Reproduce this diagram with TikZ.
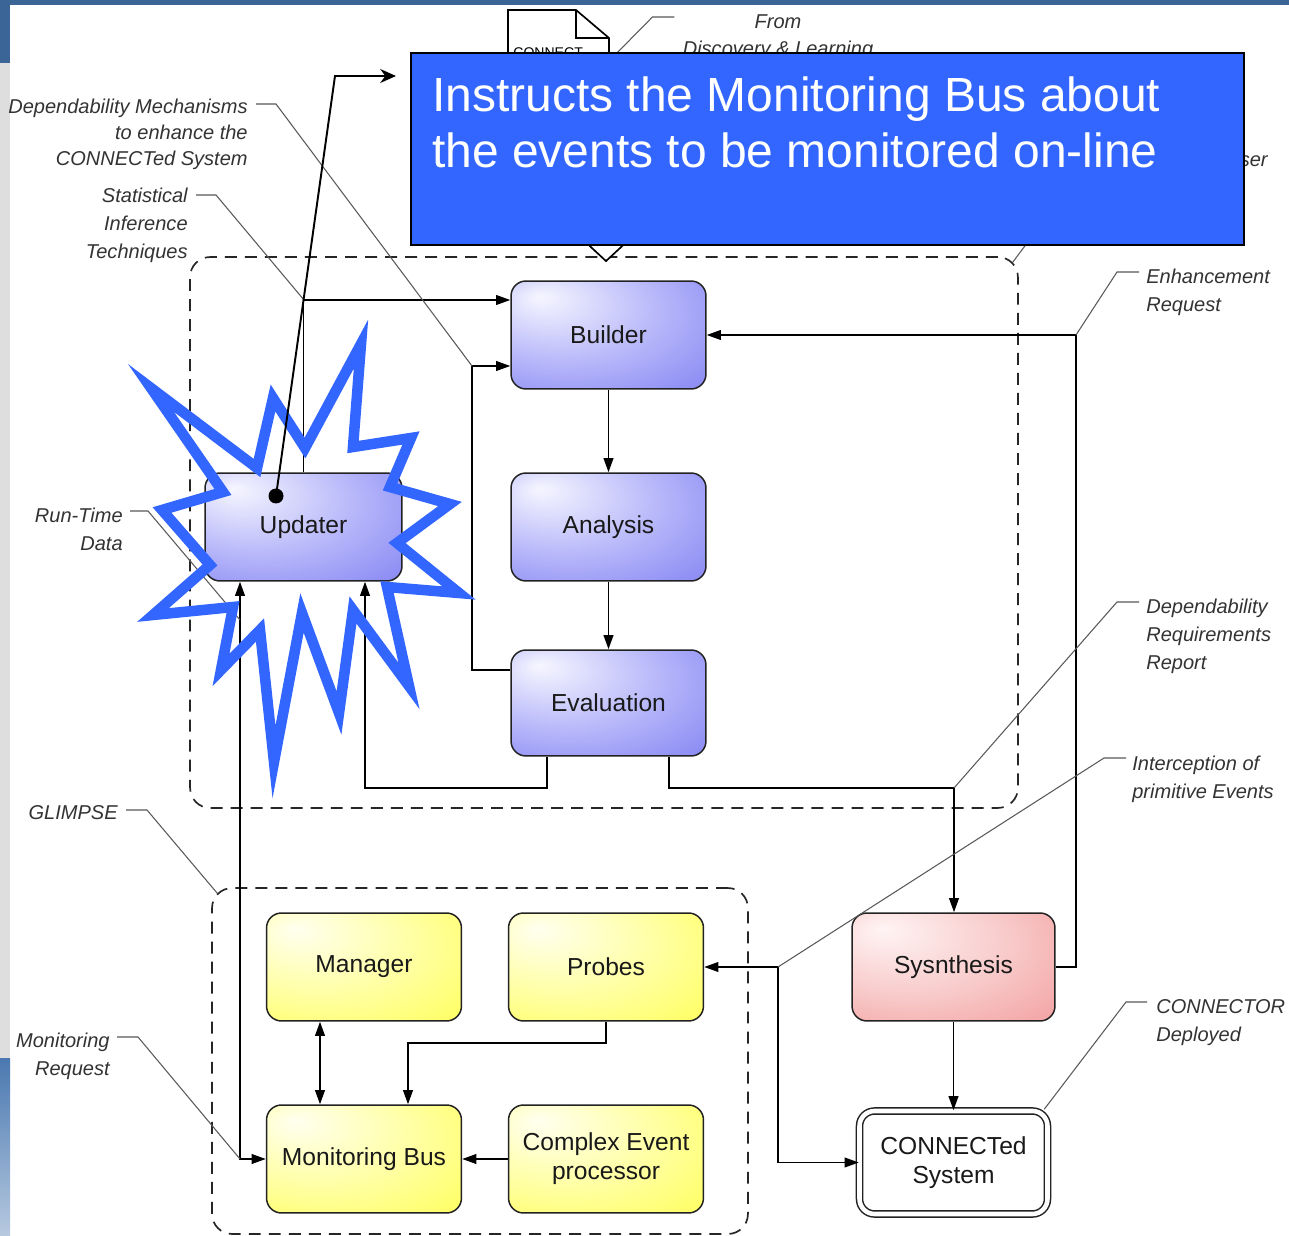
\documentclass[tikz,border=0pt]{standalone}
\usepackage{fontspec}
\setmainfont{Liberation Sans}
\usepackage{tikz}
\usetikzlibrary{arrows.meta, positioning, calc}

\definecolor{lavlight}{HTML}{F6F6FF}
\definecolor{lavmid}{HTML}{B6B6FA}
\definecolor{lavdark}{HTML}{8585F3}
\definecolor{ylwlight}{HTML}{FFFFF0}
\definecolor{ylwmid}{HTML}{FFFFA2}
\definecolor{ylwdark}{HTML}{FFFF5E}
\definecolor{pinklight}{HTML}{FFF4F4}
\definecolor{pinkmid}{HTML}{F8CACA}
\definecolor{pinkdark}{HTML}{F3A0A0}
\definecolor{boxline}{HTML}{222222}
\definecolor{noteblue}{HTML}{3366FF}
\definecolor{slideblue}{HTML}{3B6596}
\definecolor{stripgrey}{HTML}{DEDEDE}
\definecolor{stripblue}{HTML}{4A78B0}

\pgfdeclareradialshading{lavglow}{\pgfpoint{-18bp}{18bp}}{color(0bp)=(lavlight); color(25bp)=(lavmid); color(46bp)=(lavdark); color(70bp)=(lavdark)}
\pgfdeclareradialshading{ylwglow}{\pgfpoint{-18bp}{18bp}}{color(0bp)=(ylwlight); color(25bp)=(ylwmid); color(46bp)=(ylwdark); color(70bp)=(ylwdark)}
\pgfdeclareradialshading{pinkglow}{\pgfpoint{-18bp}{18bp}}{color(0bp)=(pinklight); color(25bp)=(pinkmid); color(46bp)=(pinkdark); color(70bp)=(pinkdark)}

\newcommand{\boxfont}{\fontsize{14}{16.5}\selectfont}
\newcommand{\lblfont}{\fontsize{11.4}{15.8}\selectfont\itshape}
\newcommand{\calloutfont}{\fontsize{27.3}{32.3}\selectfont}

\begin{document}
\begin{tikzpicture}[x=0.02cm, y=-0.02cm, >={Triangle[length=8pt,width=5.5pt]},
  box/.style={draw=boxline, line width=0.85pt, rounded corners=0.3cm,
    minimum width=3.9cm, minimum height=2.16cm, align=center,
    font=\boxfont, text=black!90},
  lavbox/.style={box, shade, shading=lavglow},
  ylwbox/.style={box, shade, shading=ylwglow},
  pinkbox/.style={box, shade, shading=pinkglow},
  sysbox/.style={box, fill=white, double, double distance=2.6pt,
    minimum width=3.76cm, minimum height=2.06cm},
  encl/.style={draw=black!85, line width=0.95pt, dash pattern=on 6.8pt off 4.6pt,
    rounded corners=0.4cm},
  wire/.style={draw=black, line width=0.95pt},
  lead/.style={draw=black!65, line width=0.6pt},
  lbl/.style={font=\lblfont, text=black!80, inner sep=0pt},
  burst/.style={draw=noteblue, line width=6pt, line join=miter, miter limit=30}]

\useasboundingbox (0,0) rectangle (1289,1236);
\fill[white] (0,0) rectangle (1289,1236);
\fill[slideblue] (0,0) rectangle (1289,5);
\fill[slideblue] (0,0) rectangle (10,63);
\fill[stripgrey] (0,63) rectangle (10,1058);
\shade[top color=stripblue, bottom color=stripblue!40] (0,1058) rectangle (10,1236);

\node[encl, minimum width=16.56cm, minimum height=11.02cm] (enabler) at (604,532.5) {};
\node[encl, minimum width=10.72cm, minimum height=6.92cm] (glimpse) at (480,1061) {};

% model document coming from discovery
\draw[wire, fill=white] (508,62) -- (508,10) -- (576,10) -- (609,38) -- (609,62);
\draw[wire] (576,10) -- (576,38) -- (609,38);
\node[font=\fontsize{8}{9}\selectfont, anchor=north west, inner sep=0pt] (doctxt) at (513,47) {CONNECT};
\coordinate (docfoot) at (606,70);
\draw[wire, -{Triangle[open, fill=white, length=14pt, width=30pt]}] (docfoot) -- ($(enabler.north -| docfoot)+(0,6)$);

\node[lavbox] (builder) at (608.5,335) {Builder};
\node[lavbox] (analysis) at (608.5,527) {Analysis};
\node[lavbox, minimum height=2.12cm] (evaluation) at (608.5,703) {Evaluation};
\node[lavbox, minimum width=3.94cm] (updater) at (303.5,527) {Updater};
\node[ylwbox] (manager) at (364,967) {Manager};
\node[ylwbox] (probes) at (606,967) {Probes};
\node[ylwbox] (bus) at (364,1159) {Monitoring Bus};
\node[ylwbox] (cep) at (606,1159) {Complex Event\\processor};
\node[pinkbox, minimum width=4.06cm] (synth) at (953.5,967) {Sysnthesis};
\node[sysbox] (system) at (953.5,1162.5) {CONNECTed\\System};

\coordinate (sitj) at (304,300);
\coordinate (dmj) at (472,366);
\coordinate (enj) at (1076,335);
\coordinate (drj) at (954,788);
\coordinate (ipj) at (778,967);
\coordinate (mrj) at (240,1159);
\coordinate (rtj) at (240,620);

\draw[wire,->] (updater.north) -- (updater.north |- sitj) -- (builder.west |- sitj);
\draw[wire,->] (evaluation.west |- 0,670) -| (dmj) -- (builder.west |- dmj);
\draw[wire,->] (builder) -- (analysis);
\draw[wire,->] (analysis) -- (evaluation);
\draw[wire,->] (evaluation.south -| 547,0) |- (365,788) -- (updater.south -| 365,0);
\draw[wire,->] (evaluation.south -| 669,0) |- (drj) -- (synth.north -| drj);
\draw[wire,->] (synth.east) -| (enj) -- (builder.east |- enj);
\draw[wire,->] (synth) -- (system);
\draw[wire,->] (ipj) -- (probes.east);
\draw[wire,->] (ipj) |- (system.west);
\draw[wire,<->] (updater.south -| mrj) -- (mrj) -- (bus.west);
\draw[wire,<->] (manager.south -| 320,0) -- (bus.north -| 320,0);
\draw[wire,->] (probes.south) |- (408,1043) -- (bus.north -| 408,0);
\draw[wire,->] (cep) -- (bus);

\node[lbl, anchor=north east, align=right, font=\fontsize{11.4}{14.7}\selectfont\itshape] (dmtag) at (248,99) {Dependability Mechanisms\\to enhance the\\CONNECTed System};
\node[lbl, anchor=north east, align=right] (sittag) at (188,188) {Statistical\\Inference\\Techniques};
\node[lbl, anchor=north east, align=right] (rttag) at (123,508) {Run-Time\\Data};
\node[lbl, anchor=north east] (gltag) at (118,805) {GLIMPSE};
\node[lbl, anchor=north east, align=right] (mrtag) at (110,1033) {Monitoring\\Request};
\node[lbl, anchor=north west, align=left] (entag) at (1146,269) {Enhancement\\Request};
\node[lbl, anchor=north west, align=left] (drtag) at (1146,599) {Dependability\\Requirements\\Report};
\node[lbl, anchor=north west, align=left] (iptag) at (1132,756) {Interception of\\primitive Events};
\node[lbl, anchor=north west, align=left] (cdtag) at (1156,999) {CONNECTOR\\Deployed};
\node[lbl, anchor=north, align=center] (fromtag) at (778,14) {From\\Discovery \& Learning};
\node[lbl, anchor=base east] (usertag) at (1268,167) {User};

\draw[lead] ($(dmtag.north east)+(8,5)$) -- ++(20,0) -- (dmj);
\draw[lead] ($(sittag.north east)+(8,7)$) -- ++(20,0) -- (sitj);
\draw[lead] ($(rttag.north east)+(7,3)$) -- ++(18,0) -- (rtj);
\draw[lead] ($(gltag.north east)+(8,5)$) -- ++(21,0) -- ($(glimpse.north west)+(6,6)$);
\draw[lead] ($(mrtag.north east)+(7,4)$) -- ++(21,0) -- (mrj);
\draw[lead] ($(entag.north west)+(-7,3)$) -- ++(-22,0) -- (enj);
\draw[lead] ($(drtag.north west)+(-7,3)$) -- ++(-22,0) -- (drj);
\draw[lead] ($(iptag.north west)+(-6,2)$) -- ++(-22,0) -- (ipj);
\draw[lead] ($(cdtag.north west)+(-9,3)$) -- ++(-21,0) -- ($(system.north east)+(-4,-1)$);
\draw[lead] ($(fromtag.north west)+(-8,3)$) -- ++(-22,0) -- (610,60);
\draw[lead] ($(usertag.west)+(-8,0)$) -- (1089,160) -- ($(enabler.north east)+(-6,6)$);

\node[draw=black, line width=1.2pt, fill=noteblue, minimum width=16.66cm, minimum height=3.84cm,
  anchor=north west, inner sep=0pt] (note) at (410,52) {};
\node[anchor=north west, inner sep=0pt, align=left, text=white, font=\calloutfont] (notetxt) at (432,76)
  {Instructs the Monitoring Bus about\\the events to be monitored on-line};

\draw[burst] (151,388) -- (257,468) -- (273,398) -- (305,448) -- (361,344) -- (353,447)
  -- (411,438) -- (390,487) -- (450,504) -- (397,543) -- (459,593) -- (387,587)
  -- (409,686) -- (353,610) -- (339,713) -- (302,613) -- (274,762) -- (260,630)
  -- (221,670) -- (233,607) -- (153,615) -- (210,565) -- (162,510) -- (223,492) -- cycle;

\node[circle, fill=black, inner sep=0pt, minimum size=0.3cm] (dot) at (276,496) {};
\draw[line width=1.1pt, -{Stealth[length=9pt,width=8pt]}] (dot.center) -- (335,76) -- ($(note.north west)+(-14,24)$);
\end{tikzpicture}
\end{document}
